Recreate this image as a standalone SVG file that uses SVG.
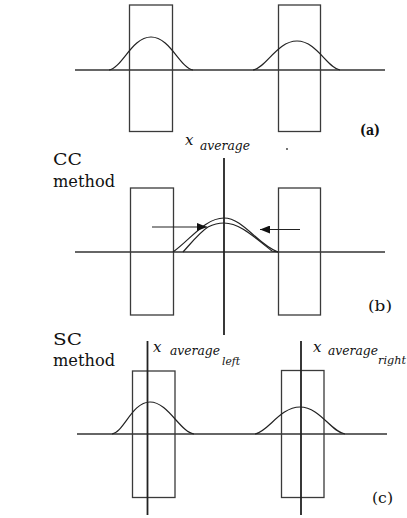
<svg xmlns="http://www.w3.org/2000/svg" width="407" height="518" viewBox="0 0 407 518">
<style>
.bg{fill:#fff}
.box{fill:none;stroke:#3a3a3a;stroke-width:1.3}
.axis{fill:none;stroke:#333;stroke-width:1.3}
.vline{fill:none;stroke:#222;stroke-width:1.8}
.curve{fill:none;stroke:#222;stroke-width:1.2}
.arrow{fill:none;stroke:#222;stroke-width:1.2}
text{fill:#111;font-family:"DejaVu Serif","Liberation Serif",serif}
.it{font-style:italic}
</style>
<defs>
<marker id="ah" viewBox="0 0 10 8" refX="10" refY="4" markerWidth="10" markerHeight="8" markerUnits="userSpaceOnUse" orient="auto">
<path d="M0,0 L10,4 L0,8 Z" fill="#111"/>
</marker>
</defs>
<rect class="bg" x="0" y="0" width="407" height="518"/>

<g id="panel-a">
<line class="axis" x1="75" y1="70" x2="385" y2="70"/>
<rect class="box" x="129.5" y="5" width="43" height="126.5"/>
<rect class="box" x="278.5" y="5" width="42" height="126.5"/>
<path class="curve" d="M109 70 C122 68,132 37,151 37 C170 37,180 68,193 70"/>
<path class="curve" d="M253 70 C266 68,277 41,297 41 C317 41,327 68,340 70"/>
<text x="360" y="135" font-size="14" font-weight="bold" textLength="20" lengthAdjust="spacingAndGlyphs">(a)</text>
</g>

<g id="panel-b">
<text x="53" y="165" font-size="17" textLength="29" lengthAdjust="spacingAndGlyphs">CC</text>
<text x="53" y="187" font-size="17" textLength="62" lengthAdjust="spacingAndGlyphs">method</text>
<text class="it" x="185" y="145" font-size="15">x</text>
<text class="it" x="200" y="150" font-size="12.5" textLength="50" lengthAdjust="spacingAndGlyphs">average</text>
<circle cx="287" cy="149" r="0.9" fill="#333"/>
<line class="axis" x1="75" y1="252" x2="385" y2="252"/>
<rect class="box" x="130.5" y="188" width="43" height="127"/>
<rect class="box" x="278.5" y="188" width="42" height="127"/>
<line class="vline" x1="224" y1="158" x2="224" y2="335"/>
<path class="curve" d="M173 252 C190 240,205 218,224 218 C243 218,258 245,278 252"/>
<path class="curve" d="M183 252 C192 242,200 232,208 227 C214 224,219 223,224 223 C240 223,255 238,272 251 L278 252"/>
<g id="connectors">
<line class="arrow" x1="152" y1="227" x2="207" y2="227" marker-end="url(#ah)"/>
<line class="arrow" x1="300" y1="229.5" x2="260" y2="229.5" marker-end="url(#ah)"/>
</g>
<text x="368" y="311" font-size="15" textLength="24" lengthAdjust="spacingAndGlyphs">(b)</text>
</g>

<g id="panel-c">
<text x="53" y="345" font-size="17" textLength="29" lengthAdjust="spacingAndGlyphs">SC</text>
<text x="53" y="366" font-size="17" textLength="62" lengthAdjust="spacingAndGlyphs">method</text>
<text class="it" x="153" y="352" font-size="15">x</text>
<text class="it" x="170" y="355" font-size="12.5" textLength="50" lengthAdjust="spacingAndGlyphs">average</text>
<text class="it" x="222" y="365" font-size="11" textLength="18" lengthAdjust="spacingAndGlyphs">left</text>
<text class="it" x="313" y="352" font-size="15">x</text>
<text class="it" x="328" y="355" font-size="12.5" textLength="50" lengthAdjust="spacingAndGlyphs">average</text>
<text class="it" x="378" y="364" font-size="11" textLength="28" lengthAdjust="spacingAndGlyphs">right</text>
<line class="axis" x1="77" y1="434" x2="387" y2="434"/>
<rect class="box" x="132.5" y="371" width="42.5" height="126.5"/>
<rect class="box" x="281.5" y="370.5" width="42.5" height="127"/>
<line class="vline" x1="147.5" y1="341" x2="147.5" y2="515"/>
<line class="vline" x1="301" y1="341" x2="301" y2="515"/>
<path class="curve" d="M112 434 C124 432,132 402,150 402 C168 402,180 432,194 434"/>
<path class="curve" d="M255 434 C268 432,280 407,300 407 C320 407,331 432,345 434"/>
<text x="372" y="503" font-size="15" textLength="21" lengthAdjust="spacingAndGlyphs">(c)</text>
</g>
</svg>
